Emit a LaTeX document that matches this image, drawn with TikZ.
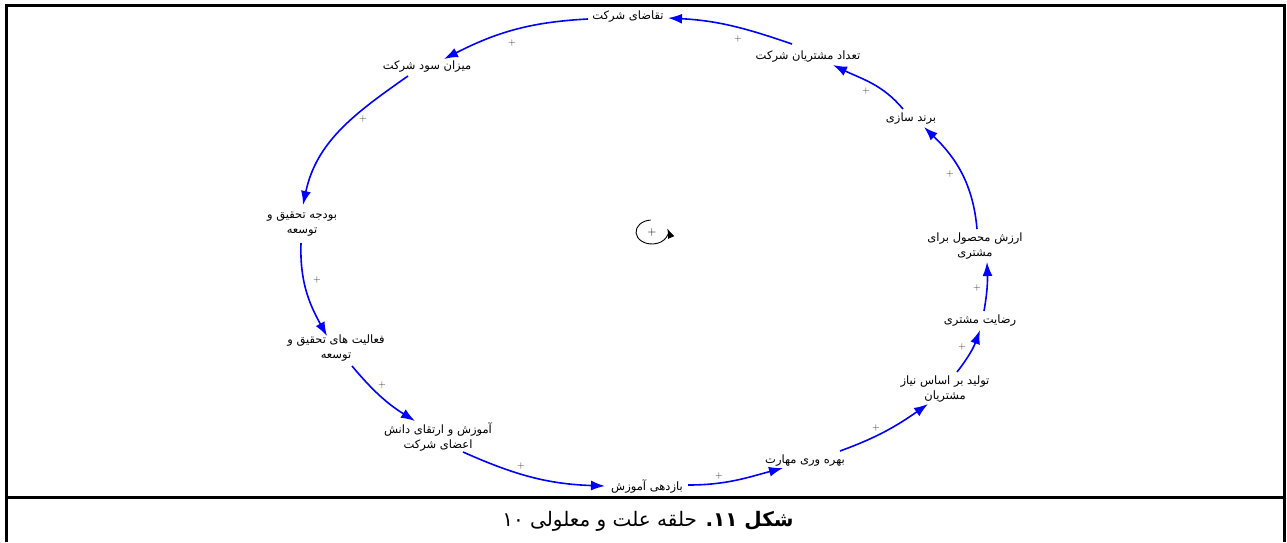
\documentclass[tikz,border=0pt]{standalone}
\usepackage{fontspec}
\usetikzlibrary{arrows.meta}
\newfontfamily\arabicfont[Script=Arabic]{DejaVu Sans}
\TeXXeTstate=1
\begin{document}
\begin{tikzpicture}[x=1pt,y=1pt,
  var/.style={font=\arabicfont\fontsize{11.5}{15}\selectfont, align=center, inner sep=0pt},
  link/.style={draw=blue, line width=1.6pt, -{Latex[length=14pt,width=10pt]}},
  pol/.style={font=\fontsize{10}{10}\selectfont, text=black!80, inner sep=0pt},
  frameline/.style={line width=3pt},
  captionstyle/.style={font=\arabicfont\fontsize{20}{22}\selectfont, inner sep=0pt}]
\useasboundingbox (0,0) rectangle (1287,-542);
% frame
\draw[frameline] (6,-542) -- (6,-5) -- (1284,-5) -- (1284,-542);
\draw[frameline] (6,-497) -- (1284,-497);
% variables
\node[var] (taghaza)  at (628,-17)  {\beginR تقاضای شرکت\endR};
\node[var] (mizan)    at (427,-67)  {\beginR میزان سود شرکت\endR};
\node[var] (budget)   at (302,-224) {\beginR بودجه تحقیق و\endR\\\beginR توسعه\endR};
\node[var] (faaliyat) at (336,-348) {\beginR فعالیت های تحقیق و\endR\\\beginR توسعه\endR};
\node[var] (amoozesh) at (438,-437) {\beginR آموزش و ارتقای دانش\endR\\\beginR اعضای شرکت\endR};
\node[var] (bazdehi)  at (647,-486) {\beginR بازدهی آموزش\endR};
\node[var] (bahre)    at (805,-461) {\beginR بهره وری مهارت\endR};
\node[var] (tolid)    at (945,-389) {\beginR تولید بر اساس نیاز\endR\\\beginR مشتریان\endR};
\node[var] (rezayat)  at (980,-321) {\beginR رضایت مشتری\endR};
\node[var] (arzesh)   at (975,-246) {\beginR ارزش محصول برای\endR\\\beginR مشتری\endR};
\node[var] (barand)   at (911,-119) {\beginR برند سازی\endR};
\node[var] (tadad)    at (808,-57)  {\beginR تعداد مشتریان شرکت\endR};
% links
\draw[link] ([shift={(-16,13)}]tadad.center) to[out=161,in=-3] ([shift={(40,-1)}]taghaza.center);
\draw[link] ([shift={(-40,-2)}]taghaza.center) to[out=183,in=27] ([shift={(17,8)}]mizan.center);
\draw[link] ([shift={(-19,-9)}]mizan.center) to[out=215,in=78] ([shift={(1,19)}]budget.center);
\draw[link] ([shift={(-1,-19)}]budget.center) to[out=268,in=119] ([shift={(-9,12)}]faaliyat.center);
\draw[link] ([shift={(16,-18)}]faaliyat.center) to[out=-50,in=148] ([shift={(-23,16)}]amoozesh.center);
\draw[link] ([shift={(25,-15)}]amoozesh.center) to[out=-24,in=178] ([shift={(-42,0)}]bazdehi.center);
\draw[link] ([shift={(41,1)}]bazdehi.center) to[out=0,in=-165] ([shift={(-22,-7)}]bahre.center);
\draw[link] ([shift={(35,10)}]bahre.center) to[out=20,in=-145] ([shift={(-17,-15)}]tolid.center);
\draw[link] ([shift={(12,17)}]tolid.center) to[out=52,in=-110] ([shift={(0,-9)}]rezayat.center);
\draw[link] ([shift={(4,10)}]rezayat.center) to[out=80,in=-88] ([shift={(12,-16)}]arzesh.center);
\draw[link] ([shift={(2,17)}]arzesh.center) to[out=95,in=-44] ([shift={(13,-8)}]barand.center);
\draw[link] ([shift={(-8,10)}]barand.center) to[out=130,in=-26] ([shift={(25,-8)}]tadad.center);
% polarities
\node[pol] (p1)  at (738,-39)  {+};
\node[pol] (p2)  at (512,-43)  {+};
\node[pol] (p3)  at (363,-119) {+};
\node[pol] (p4)  at (317,-280) {+};
\node[pol] (p5)  at (382,-385) {+};
\node[pol] (p6)  at (521,-466) {+};
\node[pol] (p7)  at (719,-476) {+};
\node[pol] (p8)  at (876,-428) {+};
\node[pol] (p9)  at (962,-347) {+};
\node[pol] (p10) at (977,-288) {+};
\node[pol] (p11) at (950,-174) {+};
\node[pol] (p12) at (866,-91)  {+};
% loop marker
\node[font=\fontsize{12}{12}\selectfont, inner sep=0pt] (loop) at (652,-232) {+};
\draw[line width=0.9pt, -{Latex[length=10pt,width=7pt]}] ([shift={(95:16 and 12)}]loop.center) arc[start angle=95, end angle=378, x radius=16, y radius=12];
% caption
\node[captionstyle] (caption) at (648,-521) {\beginR{\bfseries شکل ۱۱.} حلقه علت و معلولی \beginL۱۰\endL\endR};
\end{tikzpicture}
\end{document}
